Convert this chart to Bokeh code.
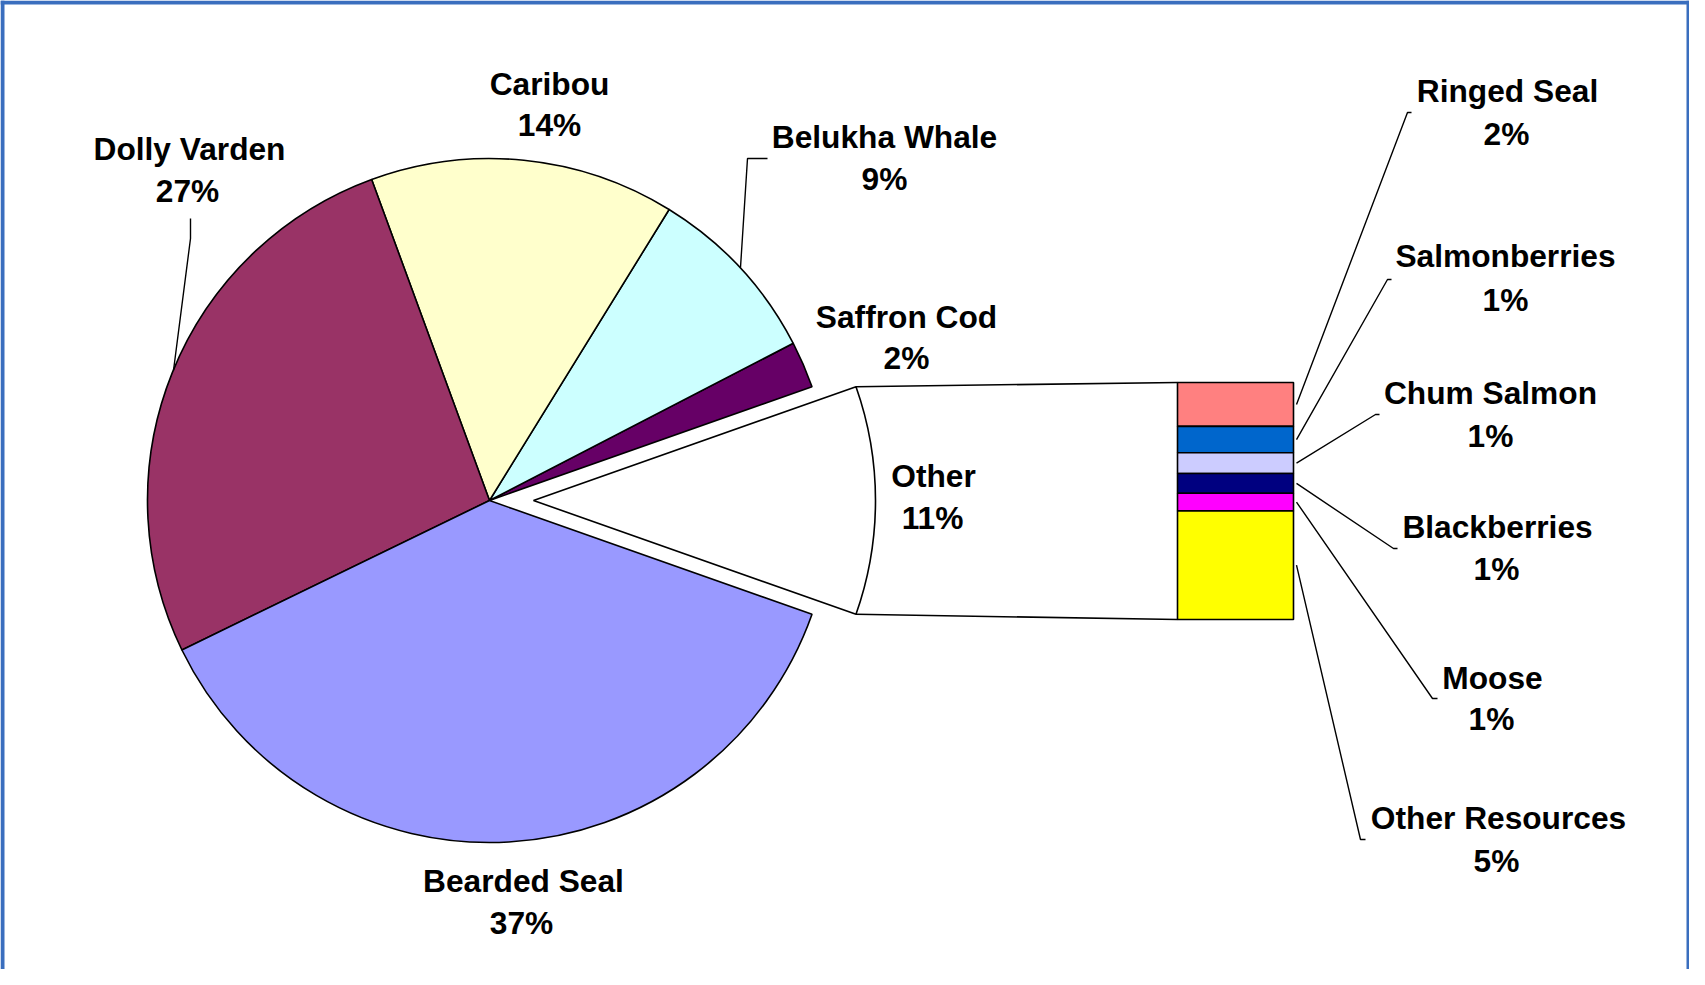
import math
from bokeh.plotting import figure
from bokeh.models import Range1d
from bokeh.core.properties import value
from bokeh.embed import file_html
from bokeh.resources import INLINE

# ---------------- data ----------------
# main pie slices, listed anticlockwise starting just above the exploded "Other" slice
main_names = ["Saffron Cod", "Belukha Whale", "Caribou", "Dolly Varden", "Bearded Seal"]
main_values = [2.2, 8.6, 14.4, 26.6, 37.4]
main_colors = ["#660066", "#CCFFFF", "#FFFFCC", "#993366", "#9999FF"]

other_name = "Other"

# secondary stacked bar (breakdown of "Other"), top to bottom
sub_names = ["Ringed Seal", "Salmonberries", "Chum Salmon", "Blackberries", "Moose", "Other Resources"]
sub_values = [2.0, 1.2, 0.95, 0.9, 0.8, 4.95]
sub_colors = ["#FF8080", "#0066CC", "#CCCCFF", "#000080", "#FF00FF", "#FFFF00"]

# ---------------- layout (reference pixel coords, y down) ----------------
W, H = 1689, 969
PAGE_H = 985


def Y(y):
    return PAGE_H - y


CX, CY, R = 489, 500, 342
EXPLODE = 44
BAR_LEFT, BAR_RIGHT, BAR_TOP, BAR_H = 1177, 1293, 382, 237

FONT = value("Liberation Sans")
FS = "31.7px"
TEXT_DY = -1  # caps centre -> baseline anchor offset as rendered

# label caps-centre positions: name (x, y), pct (x, y)
main_label_pos = {
    "Saffron Cod": ((906, 317), (906, 358)),
    "Belukha Whale": ((884, 137), (884, 179)),
    "Caribou": ((549, 84), (549, 125)),
    "Dolly Varden": ((189, 149), (187, 191)),
    "Bearded Seal": ((523, 881), (521, 923)),
}
other_label_pos = ((933, 476), (932, 518))
sub_label_pos = {
    "Ringed Seal": ((1507, 91), (1506, 134)),
    "Salmonberries": ((1505, 256), (1505, 300)),
    "Chum Salmon": ((1490, 393), (1490, 436)),
    "Blackberries": ((1497, 527), (1496, 569)),
    "Moose": ((1492, 678), (1491, 719)),
    "Other Resources": ((1498, 818), (1496, 861)),
}
# leader line end points for the bar labels: (x, y) then tick end x
sub_leader_end = {
    "Ringed Seal": (1407, 112, 1411),
    "Salmonberries": (1387, 279, 1391),
    "Chum Salmon": (1375, 414, 1379),
    "Blackberries": (1393, 548, 1397),
    "Moose": (1432, 698, 1437),
    "Other Resources": (1360, 839, 1365),
}
main_leaders = {
    "Dolly Varden": [(173, 370), (190, 238), (190, 218)],
    "Belukha Whale": [(740, 267), (747, 158), (767, 158)],
}

p = figure(width=W, height=H, output_backend="svg", toolbar_location=None,
           x_range=Range1d(0, W), y_range=Range1d(PAGE_H - H, PAGE_H),
           x_axis_type=None, y_axis_type=None, min_border=0,
           background_fill_color="white", border_fill_color="white")
p.grid.visible = False
p.outline_line_color = None

total = sum(main_values) + sum(sub_values)
other_total = sum(sub_values)
half = other_total / total * math.pi

# exploded "Other" slice
p.wedge(x=[CX + EXPLODE], y=[Y(CY)], radius=R, start_angle=[-half], end_angle=[half],
        fill_color="white", line_color="black", line_width=1.6)

# main slices
starts, ends = [], []
a = half
for v in main_values:
    starts.append(a)
    a += v / total * 2 * math.pi
    ends.append(a)
p.wedge(x=[CX] * len(main_values), y=[Y(CY)] * len(main_values), radius=R,
        start_angle=starts, end_angle=ends, fill_color=main_colors,
        line_color="black", line_width=1.6)

# stacked bar
scale = BAR_H / other_total
tops, bottoms = [], []
cur = Y(BAR_TOP)
for v in sub_values:
    tops.append(cur)
    cur -= v * scale
    bottoms.append(cur)
p.quad(left=[BAR_LEFT] * len(sub_values), right=[BAR_RIGHT] * len(sub_values),
       top=tops, bottom=bottoms, fill_color=sub_colors, line_color="black", line_width=1.6)

# connector lines between exploded slice and bar
ox = CX + EXPLODE
p.line([ox + R * math.cos(half), BAR_LEFT], [Y(CY) + R * math.sin(half), tops[0]],
       line_color="black", line_width=1.6)
p.line([ox + R * math.cos(-half), BAR_LEFT], [Y(CY) + R * math.sin(-half), bottoms[-1]],
       line_color="black", line_width=1.6)

# leader lines
xs, ys = [], []
for name, t, b in zip(sub_names, tops, bottoms):
    ex, ey, tx = sub_leader_end[name]
    xs.append([BAR_RIGHT + 3, ex, tx])
    ys.append([(t + b) / 2, Y(ey), Y(ey)])
for name, pts in main_leaders.items():
    xs.append([q[0] for q in pts])
    ys.append([Y(q[1]) for q in pts])
p.multi_line(xs, ys, line_color="black", line_width=1.4)

# labels
names, pcts, nx, ny, px, py = [], [], [], [], [], []


def add(name, v, pos):
    (ax, ay), (bx, by) = pos
    names.append(name)
    pcts.append("%.0f%%" % (v / total * 100))
    nx.append(ax); ny.append(Y(ay + TEXT_DY))
    px.append(bx); py.append(Y(by + TEXT_DY))


for n, v in zip(main_names, main_values):
    add(n, v, main_label_pos[n])
add(other_name, other_total, other_label_pos)
for n, v in zip(sub_names, sub_values):
    add(n, v, sub_label_pos[n])

for tx, ty, tt in ((nx, ny, names), (px, py, pcts)):
    p.text(x=tx, y=ty, text=tt, text_font=FONT, text_font_style="bold",
           text_font_size=FS, text_align="center", text_baseline="alphabetic",
           text_color="black")

# blue frame (top, left, right)
BLUE = "#3A6EBE"
p.quad(left=[0, 0, W - 3], right=[4, W, W],
       bottom=[PAGE_H - H, PAGE_H - 4, PAGE_H - H],
       top=[PAGE_H, PAGE_H, PAGE_H],
       fill_color=BLUE, line_color=None)

open("out.html", "w").write(file_html(p, INLINE))
